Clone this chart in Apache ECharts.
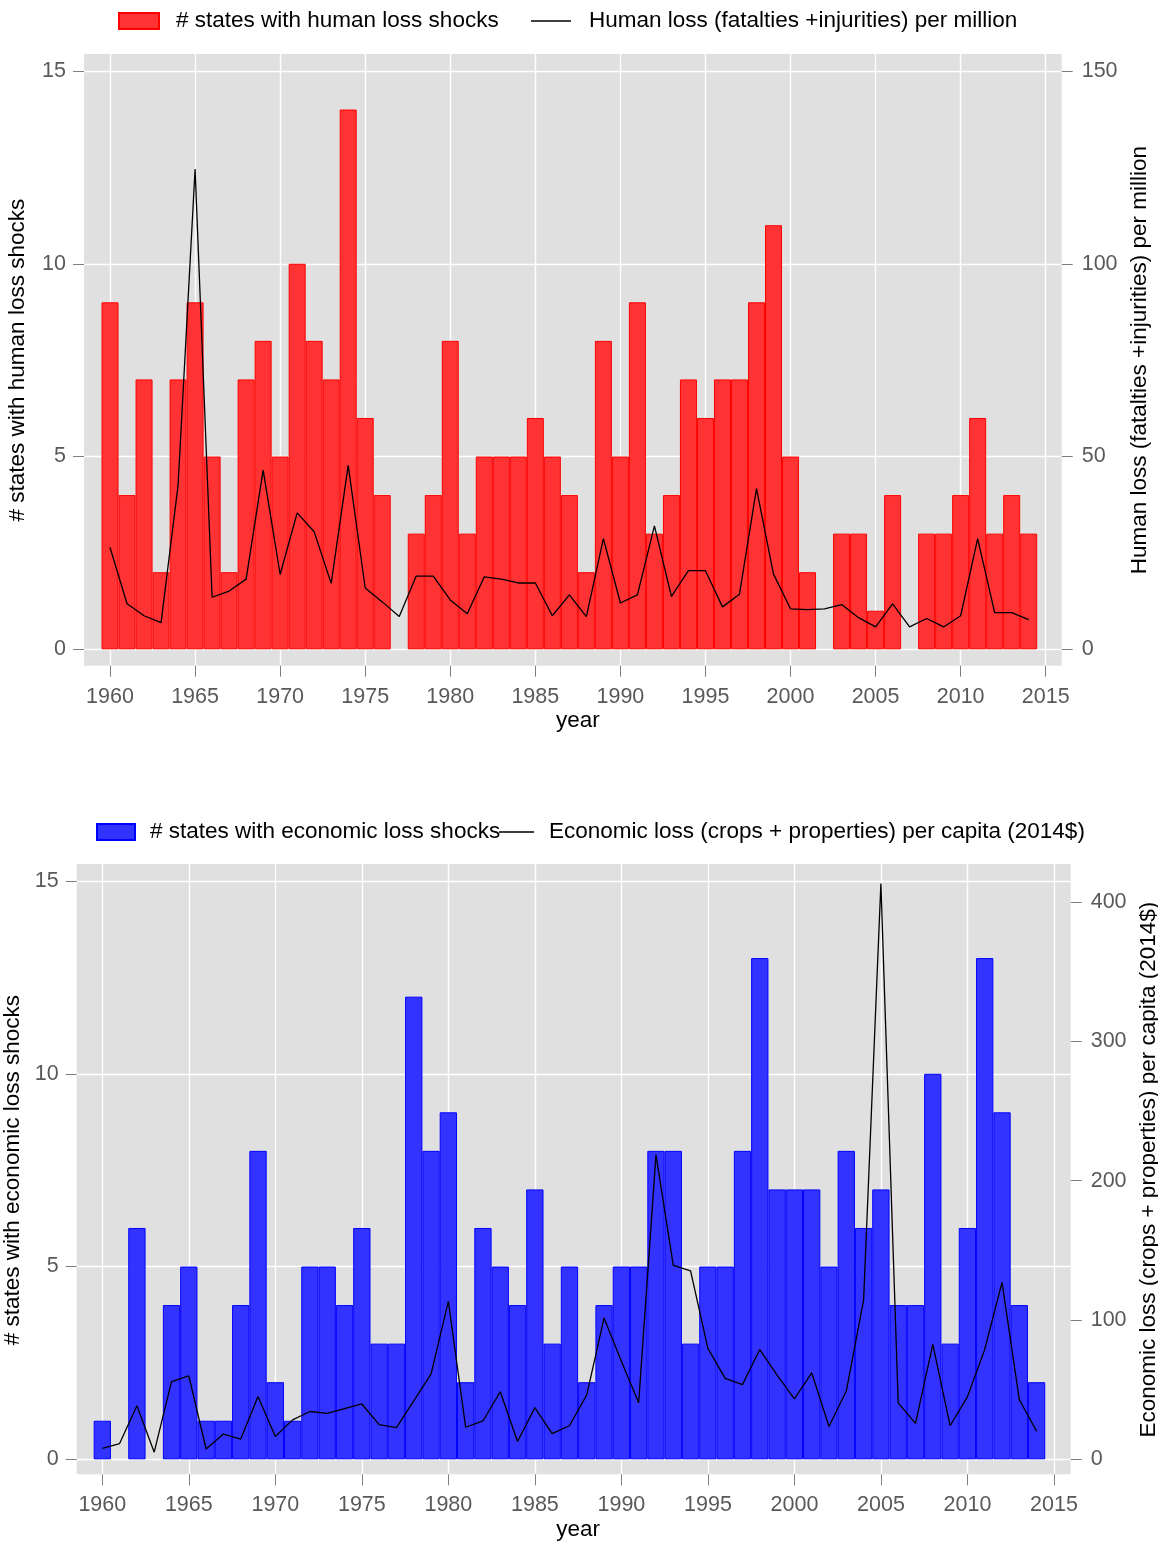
<!DOCTYPE html>
<html>
<head>
<meta charset="utf-8">
<script src="https://cdn.jsdelivr.net/npm/echarts@6/dist/echarts.min.js"></script>
<style>
html,body{margin:0;padding:0;background:#fff;}
#c{width:1158px;height:1541px;}
</style>
</head>
<body>
<div id="c"></div>
<script>
// ---------- DATA ----------
const years = [];
for (let y = 1960; y <= 2014; y++) years.push(y);

const humanStates = [9,4,7,2,7,9,5,2,7,8, 5,10,8,7,14,6,4,0,3,4, 8,3,5,5,5,6,5,4,2,8, 5,9,3,4,7,6,7,7,9,11, 5,2,0,3,3,1,4,0,3,3, 4,6,3,4,3];
const humanLoss = [26.4,11.8,8.7,6.9,42.6,124.6,13.5,15.1,18.2,46.5,
  19.4,35.4,30.5,17.1,47.7,15.9,12.3,8.5,19.0,19.0,
  12.8,9.2,18.8,18.2,17.2,17.2,8.7,14.1,8.5,28.7,
  12.0,14.1,32.0,13.7,20.4,20.4,11.0,14.3,41.7,19.5,
  10.5,10.3,10.5,11.6,8.2,5.8,11.8,5.8,8.0,5.8,
  8.7,28.7,9.5,9.5,7.7];

const econStates = [1,0,6,0,4,5,1,1,4,8, 2,1,5,5,4,6,3,3,12,8, 9,2,6,5,4,7,3,5,2,4, 5,5,8,8,3,5,5,8,13,7, 7,7,5,8,6,7,4,4,10,3, 6,13,9,4,2];
const econLoss = [7.9,11.3,38.5,5.1,55.8,59.8,7.4,18.1,14.5,45.1,
  16.4,28.3,34.3,32.9,36.3,39.7,24.9,22.7,42.0,61.2,
  113.4,23.0,27.5,48.5,12.8,37.1,18.4,24.1,46.2,101.5,
  70.3,40.5,218.5,139.2,135.2,79.6,58.1,53.6,78.8,60.4,
  43.4,62.1,23.5,49.0,114.2,413.3,40.5,25.8,82.5,24.1,
  44.8,78.8,127.0,42.8,20.1];

const leftTicks = [0, 15, 5];          // min, max, interval
const topRightTicks = [0, 150, 50];
const botRightTicks = [0, 400, 100];
const yearTicks = [1960, 2015, 5];

const names = {
  hBar: '# states with human loss shocks',
  hLine: 'Human loss (fatalties +injurities) per million',
  eBar: '# states with economic loss shocks',
  eLine: 'Economic loss (crops + properties) per capita (2014$)'
};

// ---------- STYLE ----------
const FONT = 'Liberation Sans, Arial, sans-serif';
const TICKCOL = '#7f7f7f';
const LABCOL = '#595959';
const BG = '#e0e0e0';
const TICK_FS = 21.5;
const TITLE_FS = 22.5;

const pairs = (vals, dropZero) => years.map((y, i) => [y, (dropZero && vals[i] === 0) ? null : vals[i]]);

const hidden = (gi, min, max) => ({ gridIndex: gi, type: 'value', show: false, min: min, max: max });

function yearAxis(gi) {
  return {
    gridIndex: gi, type: 'value', min: yearTicks[0], max: yearTicks[1], interval: yearTicks[2],
    name: 'year', nameLocation: 'middle', nameGap: 44,
    nameTextStyle: { fontSize: TITLE_FS, color: '#000', fontFamily: FONT },
    axisLine: { show: false },
    axisTick: { show: true, length: 11, lineStyle: { color: TICKCOL, width: 1 } },
    axisLabel: { margin: 20, fontSize: TICK_FS, color: LABCOL, fontFamily: FONT, formatter: v => String(v) },
    splitLine: { show: true, lineStyle: { color: '#ffffff', width: 1.4 } }
  };
}
function leftAxis(gi, title, gap) {
  return {
    gridIndex: gi, type: 'value', position: 'left', min: leftTicks[0], max: leftTicks[1], interval: leftTicks[2],
    name: title, nameLocation: 'middle', nameGap: gap,
    nameTextStyle: { fontSize: TITLE_FS, color: '#000', fontFamily: FONT },
    axisLine: { show: false },
    axisTick: { show: true, length: 11, lineStyle: { color: TICKCOL, width: 1 } },
    axisLabel: { margin: 18, fontSize: TICK_FS, color: LABCOL, fontFamily: FONT },
    splitLine: { show: true, lineStyle: { color: '#ffffff', width: 1.4 } }
  };
}
function rightAxis(gi, ticks, title, gap, pad) {
  return {
    gridIndex: gi, type: 'value', position: 'right', min: ticks[0], max: ticks[1], interval: ticks[2],
    name: title, nameLocation: 'middle', nameGap: gap,
    nameTextStyle: { fontSize: TITLE_FS, color: '#000', fontFamily: FONT, padding: pad },
    axisLine: { show: false },
    axisTick: { show: true, length: 11, lineStyle: { color: TICKCOL, width: 1 } },
    axisLabel: { margin: 20, fontSize: TICK_FS, color: LABCOL, fontFamily: FONT },
    splitLine: { show: false }
  };
}
function legend(name, left, top, w, h, padLeft) {
  return {
    data: [{ name: name, icon: 'rect' }], left: left, top: top, padding: 0, itemWidth: w, itemHeight: h,
    selectedMode: false,
    textStyle: { fontSize: TITLE_FS, color: '#000', fontFamily: FONT, padding: [0, 0, 0, padLeft] }
  };
}
function grid(left, top, width, height, bg) {
  const g = { left: left, top: top, width: width, height: height, containLabel: false, outerBoundsMode: 'none' };
  if (bg) { g.show = true; g.backgroundColor = BG; g.borderWidth = 0; g.z = -1; }
  return g;
}

const option = {
  animation: false,
  backgroundColor: '#ffffff',
  textStyle: { fontFamily: FONT },
  legend: [
    legend(names.hBar, 118, 9.5, 40, 16, 12),
    legend(names.hLine, 531, 9.5, 40, 1.5, 13),
    legend(names.eBar, 96, 820.5, 38, 16, 10),
    legend(names.eLine, 499, 820.5, 35, 1.5, 10)
  ],
  grid: [
    // top chart
    grid(84, 54, 977.7, 611.7, true),
    grid(110, 54, 935.7, 611.7),
    grid(84, 71, 977.7, 578.3),
    // bottom chart
    grid(76.7, 864, 994, 610.3, true),
    grid(102.3, 864, 951.7, 610.3),
    grid(76.7, 881, 994, 578.3),
    grid(76.7, 902, 994, 557.3)
  ],
  xAxis: [
    hidden(0, 0, 1),
    yearAxis(1),
    hidden(2, 1958.47, 2015.94),
    hidden(3, 0, 1),
    yearAxis(4),
    hidden(5, 1958.52, 2015.97),
    hidden(6, 1958.52, 2015.97)
  ],
  yAxis: [
    hidden(0, 0, 1),
    hidden(1, 0, 1),
    leftAxis(2, names.hBar, 55),
    rightAxis(2, topRightTicks, names.hLine, 65, 0),
    hidden(3, 0, 1),
    hidden(4, 0, 1),
    leftAxis(5, names.eBar, 47.5),
    rightAxis(6, botRightTicks, names.eLine, 65, [0, 0, 0, 22])
  ],
  series: [
    {
      name: names.hBar, type: 'bar', xAxisIndex: 2, yAxisIndex: 2, barWidth: 17,
      itemStyle: { color: '#ff3333', borderColor: '#ff0000', borderWidth: 1 },
      data: pairs(humanStates, true)
    },
    {
      name: names.hLine, type: 'line', xAxisIndex: 2, yAxisIndex: 3, symbol: 'none', showSymbol: false,
      lineStyle: { color: '#000', width: 1.3 }, itemStyle: { color: '#000', borderWidth: 0 },
      data: pairs(humanLoss, false)
    },
    {
      name: names.eBar, type: 'bar', xAxisIndex: 5, yAxisIndex: 6, barWidth: 17.3,
      itemStyle: { color: '#3333ff', borderColor: '#0000ff', borderWidth: 1 },
      data: pairs(econStates, true)
    },
    {
      name: names.eLine, type: 'line', xAxisIndex: 6, yAxisIndex: 7, symbol: 'none', showSymbol: false, clip: false,
      lineStyle: { color: '#000', width: 1.3 }, itemStyle: { color: '#000', borderWidth: 0 },
      data: pairs(econLoss, false)
    }
  ]
};

const chart = echarts.init(document.getElementById('c'), null, { renderer: 'canvas', width: 1158, height: 1541 });
chart.setOption(option);
</script>
</body>
</html>
